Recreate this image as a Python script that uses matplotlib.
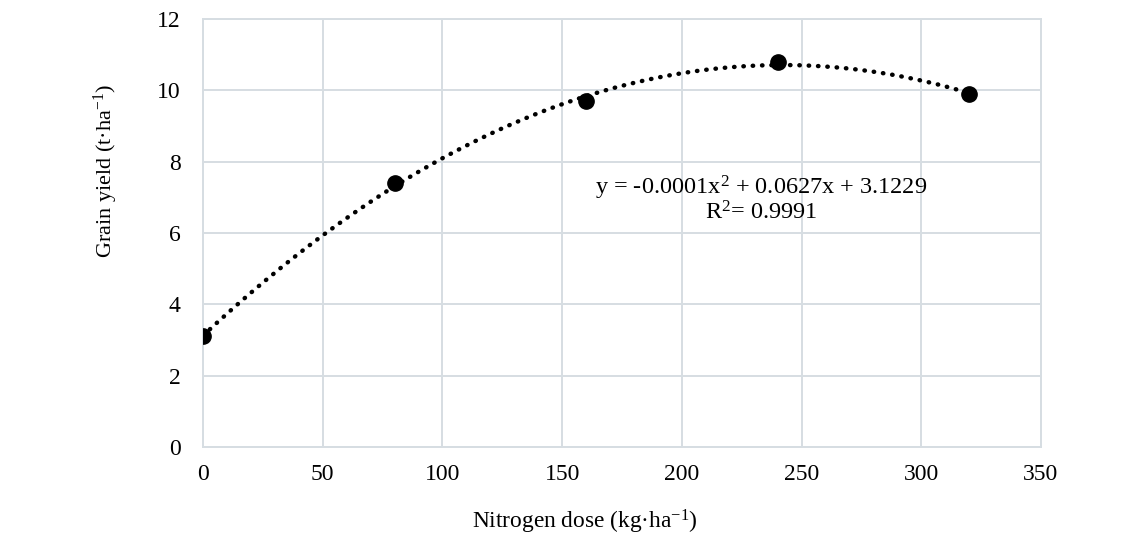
import matplotlib
matplotlib.use("Agg")
import matplotlib.pyplot as plt
import numpy as np

# nitrogen dose vs grain yield
dose = [0, 80, 160, 240, 320]
grain_yield = [3.1, 7.4, 9.7, 10.8, 9.9]
x_ticks = [0, 50, 100, 150, 200, 250, 300, 350]
y_ticks = [0, 2, 4, 6, 8, 10, 12]

plt.rcParams['font.family'] = ['Liberation Serif', 'DejaVu Serif']
plt.rcParams['mathtext.fontset'] = 'custom'
plt.rcParams['mathtext.rm'] = 'Liberation Serif'
plt.rcParams['mathtext.it'] = 'Liberation Serif:italic'
grid_col = '#d6dde2'

fig = plt.figure(figsize=(11.4, 5.35), dpi=100)
ax = fig.add_axes([203/1140, 1 - 447/535, 838/1140, 428/535])

# quadratic trend line, fitted to the points
coef = np.polyfit(dose, grain_yield, 2)
xs = np.linspace(0, 320, 200)
ax.plot(xs, np.polyval(coef, xs), color='black', linestyle=(0, (0.1, 2.0)),
        linewidth=3.2, dash_capstyle='round', zorder=3)
ax.plot(dose, grain_yield, 'o', color='black', markersize=11, zorder=4)

ax.set_xlim(0, 350)
ax.set_ylim(0, 12)
ax.set_xticks(x_ticks)
ax.set_yticks(y_ticks)
ax.grid(True, color=grid_col, linewidth=1.4)
for s in ax.spines.values():
    s.set_color(grid_col)
    s.set_linewidth(1.4)
ax.tick_params(length=0, labelsize=17)
ax.tick_params(axis='y', pad=16)
ax.tick_params(axis='x', pad=12)

ax.text(233, 7.27, r'y = -0.0001x$^{\mathrm{2}}$ + 0.0627x + 3.1229', ha='center', va='center', fontsize=17.5)
ax.text(233, 6.57, r'R$^{\mathrm{2}}$= 0.9991', ha='center', va='center', fontsize=17.5)

ax.set_xlabel(r'Nitrogen dose (kg·ha$^{\mathrm{-1}}$)', fontsize=16.8)
ax.set_ylabel(r'Grain yield (t·ha$^{\mathrm{-1}}$)', fontsize=16)
ax.xaxis.set_label_coords(0.456, -0.143)
ax.yaxis.set_label_coords(-0.099, 0.645)

fig.savefig('out.png', dpi=100)
